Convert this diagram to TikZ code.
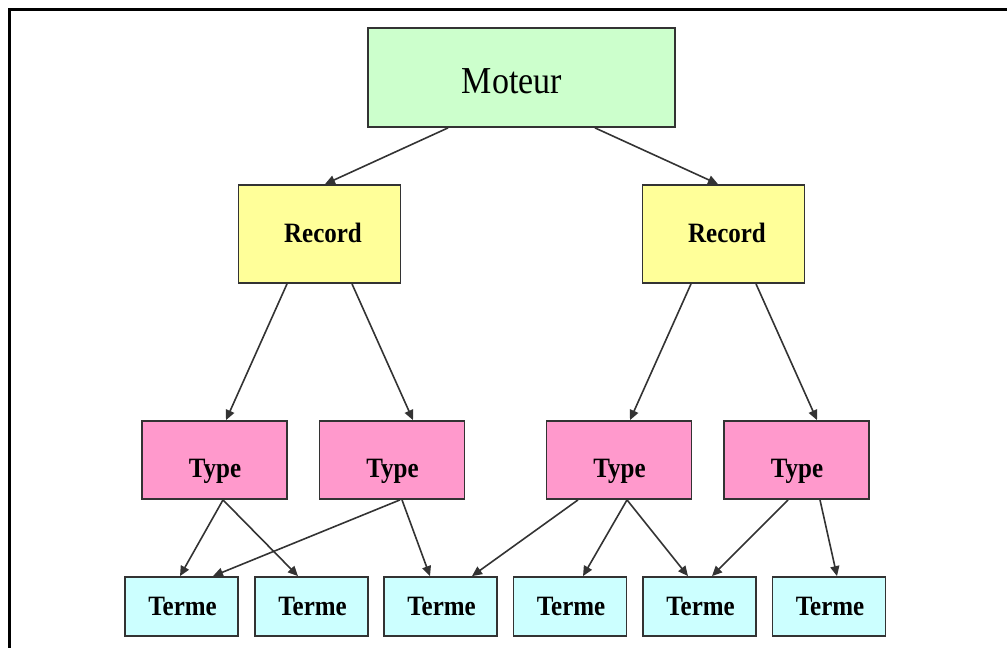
\documentclass[tikz,border=0pt]{standalone}
\usepackage{fontspec}
\setmainfont{Liberation Serif}
\usetikzlibrary{arrows.meta,calc}
\definecolor{cgreen}{HTML}{CCFFCC}
\definecolor{cyellow}{HTML}{FFFF99}
\definecolor{cpink}{HTML}{FF99CC}
\definecolor{ccyan}{HTML}{CCFFFF}
\definecolor{cborder}{HTML}{333333}
\newcommand\tallt[1]{\scalebox{1}[1.12]{#1}}
\tikzset{
  box/.style={draw=cborder, line width=1.8pt, inner sep=0pt, rectangle},
  motbox/.style={box, fill=cgreen, minimum width=307pt, minimum height=99pt},
  recbox/.style={box, fill=cyellow, minimum width=162pt, minimum height=98pt},
  typbox/.style={box, fill=cpink, minimum width=145pt, minimum height=78pt},
  terbox/.style={box, fill=ccyan, minimum width=113pt, minimum height=59pt},
  lbl/.style={anchor=base, inner sep=0pt, font=\fontsize{25}{25}\selectfont\bfseries},
  biglbl/.style={anchor=base, inner sep=0pt, font=\fontsize{34}{34}\selectfont},
  arr/.style={draw=cborder, line width=1.6pt, -{Triangle[length=10pt,width=9pt]}},
  frameline/.style={draw=black, line width=3pt}
}
\begin{document}
\begin{tikzpicture}[x=1pt,y=-1pt]
\useasboundingbox (0,0) rectangle (1007,648);
\coordinate (fc) at (9,9);
\coordinate (fr) at (1007,9);
\coordinate (fb) at (9,648);
\draw[frameline] (fb) -- (fc) -- (fr);

\node[motbox] (m) at (521.5,77.5) {};
\node[recbox] (r1) at (319.5,234) {};
\node[recbox] (r2) at (723.5,234) {};
\node[typbox] (t1) at (214.5,460) {};
\node[typbox] (t2) at (392,460) {};
\node[typbox] (t3) at (619,460) {};
\node[typbox] (t4) at (796.5,460) {};
\node[terbox] (e1) at (181.5,606.5) {};
\node[terbox] (e2) at (311.5,606.5) {};
\node[terbox] (e3) at (440.5,606.5) {};
\node[terbox] (e4) at (570,606.5) {};
\node[terbox] (e5) at (699.5,606.5) {};
\node[terbox] (e6) at (829,606.5) {};

\node[biglbl] (mt) at ([xshift=-9.5pt,yshift=-15.5pt]m.center) {\tallt{Moteur}};
\node[lbl] (r1t) at ([xshift=3.5pt,yshift=-8pt]r1.center) {\tallt{Record}};
\node[lbl] (r2t) at ([xshift=3.5pt,yshift=-8pt]r2.center) {\tallt{Record}};
\foreach \n in {t1,t2,t3,t4}{
  \node[lbl] (\n t) at ([xshift=0.5pt,yshift=-17pt]\n.center) {\tallt{Type}};
}
\foreach \n in {e1,e2,e3,e4,e5,e6}{
  \node[lbl] (\n t) at ([xshift=1pt,yshift=-8.5pt]\n.center) {\tallt{Terme}};
}

\draw[arr] ([xshift=-73.5pt]m.south) -- ([xshift=5.5pt]r1.north);
\draw[arr] ([xshift=73.5pt]m.south) -- ([xshift=-5.5pt]r2.north);

\draw[arr] ([xshift=-32.5pt]r1.south) -- ([xshift=11.5pt]t1.north);
\draw[arr] ([xshift=32.5pt]r1.south) -- ([xshift=21pt]t2.north);
\draw[arr] ([xshift=-32.5pt]r2.south) -- ([xshift=11pt]t3.north);
\draw[arr] ([xshift=32.5pt]r2.south) -- ([xshift=20.5pt]t4.north);

\draw[arr] ([xshift=8.5pt]t1.south) -- ([xshift=-1.5pt]e1.north);
\draw[arr] ([xshift=8.5pt]t1.south) -- ([xshift=-13.5pt]e2.north);
\draw[arr] ([xshift=8pt]t2.south) -- ([xshift=31.5pt]e1.north);
\draw[arr] ([xshift=10pt]t2.south) -- ([xshift=-10.5pt]e3.north);
\draw[arr] ([xshift=-41pt]t3.south) -- ([xshift=31.5pt]e3.north);
\draw[arr] ([xshift=8pt]t3.south) -- ([xshift=13pt]e4.north);
\draw[arr] ([xshift=8pt]t3.south) -- ([xshift=-11.5pt]e5.north);
\draw[arr] ([xshift=-8.5pt]t4.south) -- ([xshift=12.5pt]e5.north);
\draw[arr] ([xshift=23.5pt]t4.south) -- ([xshift=8pt]e6.north);
\end{tikzpicture}
\end{document}
